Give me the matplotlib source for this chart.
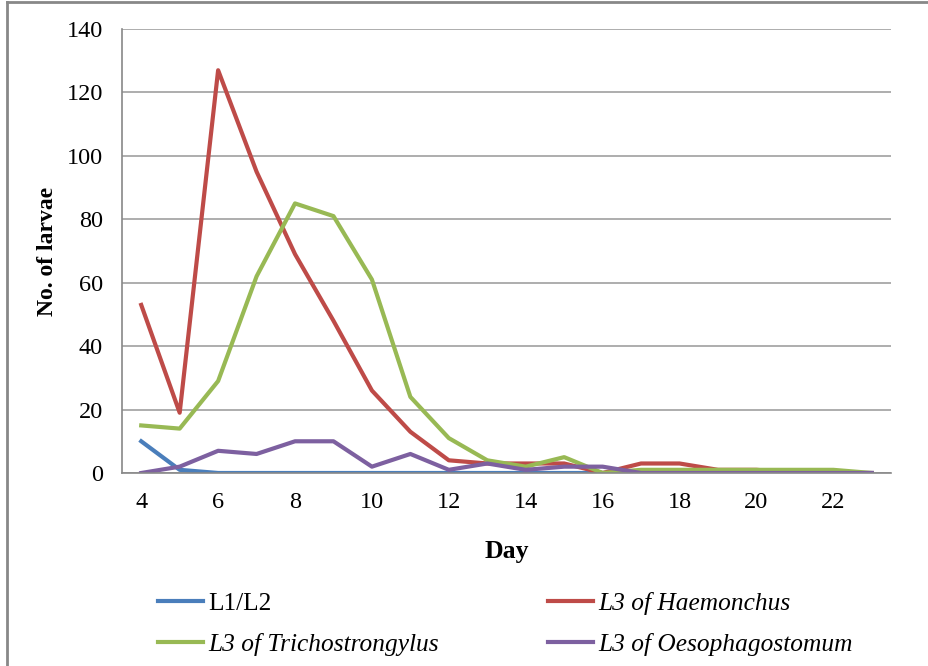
import matplotlib
matplotlib.use("Agg")
import matplotlib.pyplot as plt
from matplotlib.lines import Line2D

days = list(range(4, 24))
l1_l2 = [10, 1, 0, 0, 0, 0, 0, 0, 0, 0, 0, 0, 0, 0, 0, 0, 0, 0, 0, 0]
haemonchus = [53, 19, 127, 95, 69, 48, 26, 13, 4, 3, 3, 3, 0, 3, 3, 1, 1, 0, 0, 0]
trichostrongylus = [15, 14, 29, 62, 85, 81, 61, 24, 11, 4, 2, 5, 0, 1, 1, 1, 1, 1, 1, 0]
oesophagostomum = [0, 2, 7, 6, 10, 10, 2, 6, 1, 3, 1, 2, 2, 0, 0, 0, 0, 0, 0, 0]
xticks = [4, 6, 8, 10, 12, 14, 16, 18, 20, 22]
yticks = [0, 20, 40, 60, 80, 100, 120, 140]

plt.rcParams['font.family'] = ['Liberation Serif', 'DejaVu Serif']

fig = plt.figure(figsize=(9.29, 6.66), dpi=100)
fig.patch.set_facecolor('white')
ax = fig.add_axes([122/929, 1-473/666, (891-122)/929, (473-29)/666])

# outer frame (left and top visible)
fig.add_artist(Line2D([7/929, 7/929], [0, 1-2/666], transform=fig.transFigure, color='#888888', lw=2))
fig.add_artist(Line2D([7/929, 1], [1-2/666, 1-2/666], transform=fig.transFigure, color='#888888', lw=2))

lw = 3.0
h1, = ax.plot(days, l1_l2, color='#4A7EBB', lw=lw, label='L1/L2')
h2, = ax.plot(days, haemonchus, color='#BE4B48', lw=lw, label='L3 of Haemonchus')
h3, = ax.plot(days, trichostrongylus, color='#98B954', lw=lw, label='L3 of Trichostrongylus')
h4, = ax.plot(days, oesophagostomum, color='#7D60A0', lw=lw, label='L3 of Oesophagostomum')

ax.set_xlim(3.5, 23.5)
ax.set_ylim(0, 140)
ax.set_xticks(xticks)
ax.set_yticks(yticks)
ax.tick_params(axis='both', length=0, labelsize=17.5, colors='black')
ax.tick_params(axis='x', pad=14)
ax.tick_params(axis='y', pad=13.7)
ax.grid(axis='y', color='#A0A0A0', lw=1.2)
ax.set_axisbelow(True)
for s in ['top', 'right']:
    ax.spines[s].set_visible(False)
for s in ['left', 'bottom']:
    ax.spines[s].set_color('#888888')
    ax.spines[s].set_linewidth(1.2)

ax.set_xlabel('Day', fontsize=18.5, fontweight='bold', labelpad=19)
ax.set_ylabel('No. of larvae', fontsize=17, fontweight='bold', labelpad=6)

leg = fig.legend([h1, h3, h2, h4],
                 ['L1/L2', 'L3 of Trichostrongylus', 'L3 of Haemonchus', 'L3 of Oesophagostomum'],
                 ncol=2, loc='upper left', bbox_to_anchor=(135/929, 1-569/666),
                 frameon=False, fontsize=18.3, handlelength=1.77, handletextpad=0.2,
                 columnspacing=4.3, labelspacing=0.72)
for t in leg.get_texts():
    if t.get_text().startswith('L3'):
        t.set_fontstyle('italic')
for l in leg.get_lines():
    l.set_linewidth(3.0)

fig.savefig('out.png', dpi=100)
